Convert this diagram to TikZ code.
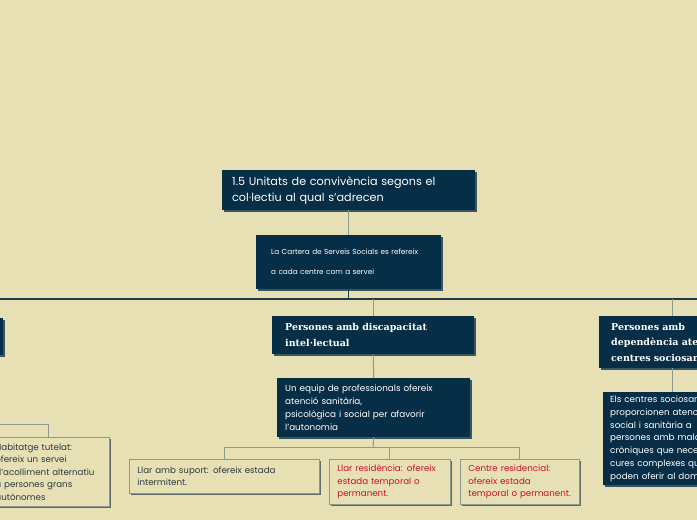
\documentclass[tikz,border=0pt]{standalone}
\usepackage{fontspec}
\setmainfont{Poppins}
\newfontfamily\headfont{DejaVu Serif}
\usetikzlibrary{shadows}

\definecolor{paper}{HTML}{E8E0B5}
\definecolor{navy}{HTML}{062E46}
\definecolor{navyshade}{HTML}{3A5562}
\definecolor{barline}{HTML}{1C3A48}
\definecolor{twig}{HTML}{8E9A90}
\definecolor{lightedge}{HTML}{8C978D}
\definecolor{lightshade}{HTML}{5E6B6B}
\definecolor{inkred}{HTML}{C8102E}
\definecolor{inkdark}{HTML}{2B3A3F}

\tikzset{
  darkbox/.style={rectangle, anchor=north west, fill=navy, text=white,
    align=left, inner ysep=3,
    drop shadow={shadow xshift=1.5pt, shadow yshift=-1.5pt, fill=navyshade, opacity=1}},
  lightbox/.style={rectangle, anchor=north west, fill=paper, draw=lightedge,
    line width=0.8pt, align=left, inner xsep=8, inner ysep=3, text=inkdark,
    font=\fontsize{8.7}{12.5}\selectfont,
    drop shadow={shadow xshift=2pt, shadow yshift=-2pt, fill=lightshade, opacity=1}},
  redtext/.style={text=inkred},
  headtext/.style={font=\headfont\bfseries\fontsize{9.5}{15.5}\selectfont},
  bodytext/.style={font=\fontsize{8.8}{12.8}\selectfont},
  mainline/.style={draw=barline, line width=1.3pt},
  twigline/.style={draw=twig, line width=1pt},
}

\begin{document}
\begin{tikzpicture}[x=1pt,y=-1pt]
  %%%%% START %%%%%
  \clip (0,0) rectangle (697,520);
  \fill[paper] (0,0) rectangle (697,520);

  % top of the map
  \node[darkbox, minimum width=253, minimum height=40, text width=233, inner xsep=10,
    font=\fontsize{11.2}{16}\selectfont] (title) at (222,170)
    {1.5 Unitats de convivència segons el\\col·lectiu al qual s’adrecen};
  \node[darkbox, minimum width=185, minimum height=54, text width=155, inner xsep=15,
    font=\fontsize{7.3}{20}\selectfont] (cartera) at (256,235)
    {La Cartera de Serveis Socials es refereix\\a cada centre com a servei};

  \coordinate (barL) at (-20,299);
  \coordinate (barR) at (720,299);

  % second level
  \node[darkbox, minimum width=103, minimum height=37] (grans) at (-100,318) {};
  \node[darkbox, headtext, minimum width=202, minimum height=38, text width=176, inner xsep=13]
    (intel) at (272,316) {Persones amb discapacitat\\intel·lectual};
  \node[darkbox, headtext, minimum width=146, minimum height=52, text width=122, inner xsep=12]
    (sociosan) at (599,316) {Persones amb\\dependència atesa en\\centres sociosanitaris};

  % third level
  \node[darkbox, bodytext, minimum width=193, minimum height=59, text width=177, inner xsep=8]
    (equip) at (277,378)
    {Un equip de professionals ofereix\\atenció sanitària,\\psicològica i social per afavorir\\l’autonomia};
  \node[darkbox, bodytext, minimum width=142, minimum height=93, text width=128, inner xsep=7]
    (centres) at (603,392)
    {Els centres sociosanitaris\\proporcionen atenció\\social i sanitària a\\persones amb malalties\\cròniques que necessiten\\cures complexes que no es\\poden oferir al domicili};

  % fourth level
  \node[lightbox, minimum width=122, minimum height=69, text width=106] (tutelat) at (-13,437)
    {Habitatge tutelat:\\ofereix un servei\\d’acolliment alternatiu\\a persones grans\\autònomes};
  \node[lightbox, minimum width=190, minimum height=34, text width=174] (suport) at (129,459)
    {Llar amb suport: ofereix estada\\intermitent.};
  \node[lightbox, redtext, minimum width=121, minimum height=45, text width=105] (residencia) at (329,459)
    {Llar residència: ofereix\\estada temporal o\\permanent.};
  \node[lightbox, redtext, minimum width=119, minimum height=45, text width=103] (residencial) at (460,459)
    {Centre residencial:\\ofereix estada\\temporal o permanent.};

  % connectors
  \draw[twigline] (title.south) -- (cartera.north);
  \draw[mainline] (cartera.south) -- (cartera.south |- barL);
  \draw[mainline] (barL) -- (barR);
  \draw[twigline] (grans.north |- barL) -- (grans.north);
  \draw[twigline] (intel.north |- barL) -- (intel.north);
  \draw[twigline] (sociosan.north |- barL) -- (sociosan.north);
  \draw[twigline] (intel.south) -- (equip.north);
  \draw[twigline] (sociosan.south) -- (sociosan.south |- centres.north);

  \coordinate (fork) at (373,447);
  \draw[twigline] (equip.south) -- (fork);
  \draw[twigline] (fork) -| (suport.north);
  \draw[twigline] (fork) -| (residencia.north);
  \draw[twigline] (fork) -| (residencial.north);

  \coordinate (tutelatin) at (-20,424);
  \draw[twigline] (tutelatin) -| (tutelat.north);

  %%%%% END %%%%%
\end{tikzpicture}
\end{document}
